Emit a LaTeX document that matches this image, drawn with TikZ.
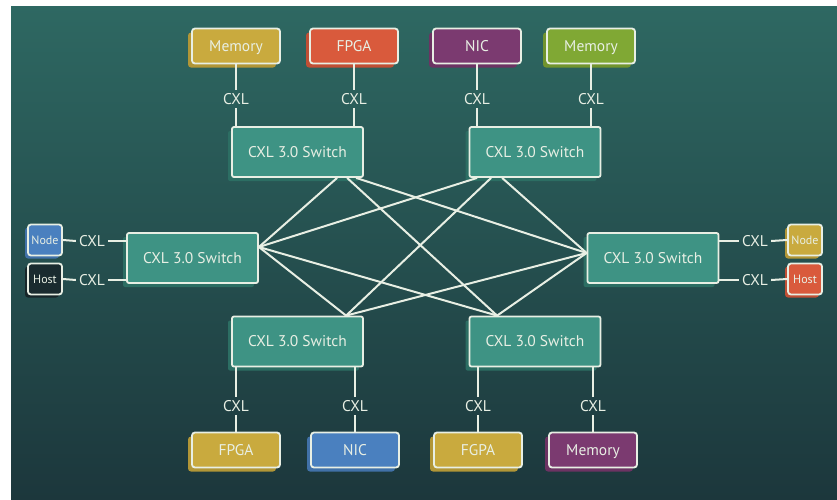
\documentclass[tikz,border=0pt]{standalone}
\usepackage{fontspec}
\setmainfont{PT Sans}
\usetikzlibrary{shadows,calc}

\definecolor{bgtop}{HTML}{2E6862}
\definecolor{bgbot}{HTML}{1C373C}
\definecolor{edge}{HTML}{E8EFE4}
\definecolor{swfill}{HTML}{3E9384}
\definecolor{swshade}{HTML}{2C6E63}
\definecolor{cyel}{HTML}{C9AA3E}
\definecolor{cred}{HTML}{D95A3C}
\definecolor{cpur}{HTML}{7B3A70}
\definecolor{cgrn}{HTML}{80A834}
\definecolor{cblu}{HTML}{4A80BF}
\definecolor{cdark}{HTML}{1A2B2F}

\tikzset{
  switchbox/.style={draw=edge, line width=1.8pt, fill=swfill, rounded corners=2pt,
    minimum width=131pt, minimum height=50pt, text=edge,
    font=\fontsize{15.5}{18}\selectfont, text height=11pt, text depth=1pt,
    general shadow={fill=swshade, shadow xshift=-4pt, shadow yshift=-4pt}},
  devbox/.style={draw=edge, line width=1.8pt, fill=#1, rounded corners=3pt,
    minimum width=88pt, minimum height=35pt, text=edge,
    font=\fontsize{15.5}{18}\selectfont, text height=11pt, text depth=1pt,
    general shadow={fill=#1!88!black, shadow xshift=-4pt, shadow yshift=-4pt}},
  hostbox/.style={draw=edge, line width=1.8pt, fill=#1, rounded corners=3pt,
    minimum width=34pt, minimum height=31pt, inner sep=1pt, text=edge,
    font=\fontsize{12}{14}\selectfont, text height=8.5pt, text depth=0.5pt,
    general shadow={fill=#1!88!black, shadow xshift=-3pt, shadow yshift=-3pt}},
  cxl/.style={text=edge, inner sep=3pt, font=\fontsize{15.5}{18}\selectfont},
  link/.style={draw=edge, line width=2pt},
}

\begin{document}
\begin{tikzpicture}[x=1pt,y=-1pt]
  % canvas and backdrop
  \useasboundingbox (0,0) rectangle (837,499);
  \fill[white] (0,0) rectangle (837,499);
  \shade[top color=bgtop, bottom color=bgbot] (11,6) rectangle (837,499);

  % switches
  \node[switchbox] (tl) at (297.5,152) {CXL 3.0 Switch};
  \node[switchbox] (tr) at (535,152) {CXL 3.0 Switch};
  \node[switchbox] (ls) at (192.5,258) {CXL 3.0 Switch};
  \node[switchbox] (rs) at (653,258) {CXL 3.0 Switch};
  \node[switchbox] (bl) at (297.5,341.5) {CXL 3.0 Switch};
  \node[switchbox] (br) at (535,341.5) {CXL 3.0 Switch};

  % top devices
  \node[devbox=cyel] (tmem1) at (236,46) {Memory};
  \node[devbox=cred] (tfpga) at (354,46) {FPGA};
  \node[devbox=cpur] (tnic)  at (477,46) {NIC};
  \node[devbox=cgrn] (tmem2) at (591,46) {Memory};
  \node[cxl] (tc1) at (236,99) {CXL};
  \node[cxl] (tc2) at (354,99) {CXL};
  \node[cxl] (tc3) at (477,99) {CXL};
  \node[cxl] (tc4) at (591,99) {CXL};

  % bottom devices
  \node[devbox=cyel] (bfpga) at (236,450) {FPGA};
  \node[devbox=cblu] (bnic)  at (355,450) {NIC};
  \node[devbox=cyel] (bfgpa) at (478,450) {FGPA};
  \node[devbox=cpur] (bmem)  at (593,450) {Memory};
  \node[cxl] (bc1) at (236,406) {CXL};
  \node[cxl] (bc2) at (355,406) {CXL};
  \node[cxl] (bc3) at (478,406) {CXL};
  \node[cxl] (bc4) at (593,406) {CXL};

  % side endpoints
  \node[hostbox=cblu]  (lnode) at (45,240) {Node};
  \node[hostbox=cdark] (lhost) at (45,279) {Host};
  \node[cxl] (lc1) at (92,241) {CXL};
  \node[cxl] (lc2) at (92,280) {CXL};
  \node[hostbox=cyel]  (rnode) at (805,240) {Node};
  \node[hostbox=cred]  (rhost) at (805,279) {Host};
  \node[cxl] (rc1) at (755,241) {CXL};
  \node[cxl] (rc2) at (755,280) {CXL};

  % vertical device links
  \foreach \d/\c/\s in {tmem1/tc1/tl, tfpga/tc2/tl, tnic/tc3/tr, tmem2/tc4/tr}{
    \draw[link] (\d.south) -- (\c.north);
    \draw[link] (\c.south) -- (\c.south |- \s.north);
  }
  \foreach \d/\c/\s in {bfpga/bc1/bl, bnic/bc2/bl, bfgpa/bc3/br, bmem/bc4/br}{
    \draw[link] (\d.north) -- (\c.south);
    \draw[link] (\c.north) -- (\c.north |- \s.south);
  }

  % side links
  \draw[link] (lnode.east) -- (lc1.west);
  \draw[link] (lc1.east) -- (lc1.east -| ls.west);
  \draw[link] (lhost.east) -- (lc2.west);
  \draw[link] (lc2.east) -- (lc2.east -| ls.west);
  \draw[link] (rnode.west) -- (rc1.east);
  \draw[link] (rc1.west) -- (rc1.west -| rs.east);
  \draw[link] (rhost.west) -- (rc2.east);
  \draw[link] (rc2.west) -- (rc2.west -| rs.east);

  % switch fabric ports
  \coordinate (lp)  at ($(ls.east)+(0,-11)$);
  \coordinate (rp)  at ($(rs.west)+(0,-5)$);
  \coordinate (tl1) at ($(tl.south west)+(106,0)$);
  \coordinate (tl2) at ($(tl.south west)+(116,0)$);
  \coordinate (tl3) at ($(tl.south west)+(125,0)$);
  \coordinate (tr1) at ($(tr.south west)+(8.5,0)$);
  \coordinate (tr2) at ($(tr.south west)+(22.5,0)$);
  \coordinate (tr3) at ($(tr.south west)+(33.5,0)$);
  \coordinate (blp) at ($(bl.north west)+(115,0)$);
  \coordinate (brp) at ($(br.north west)+(28.5,0)$);

  % switch fabric mesh
  \draw[link] (lp) -- (tl1);
  \draw[link] (lp) -- (tr1);
  \draw[link] (lp) -- (blp);
  \draw[link] (lp) -- (brp);
  \draw[link] (rp) -- (tl3);
  \draw[link] (rp) -- (tr3);
  \draw[link] (rp) -- (blp);
  \draw[link] (rp) -- (brp);
  \draw[link] (tl2) -- (brp);
  \draw[link] (tr2) -- (blp);
\end{tikzpicture}
\end{document}
